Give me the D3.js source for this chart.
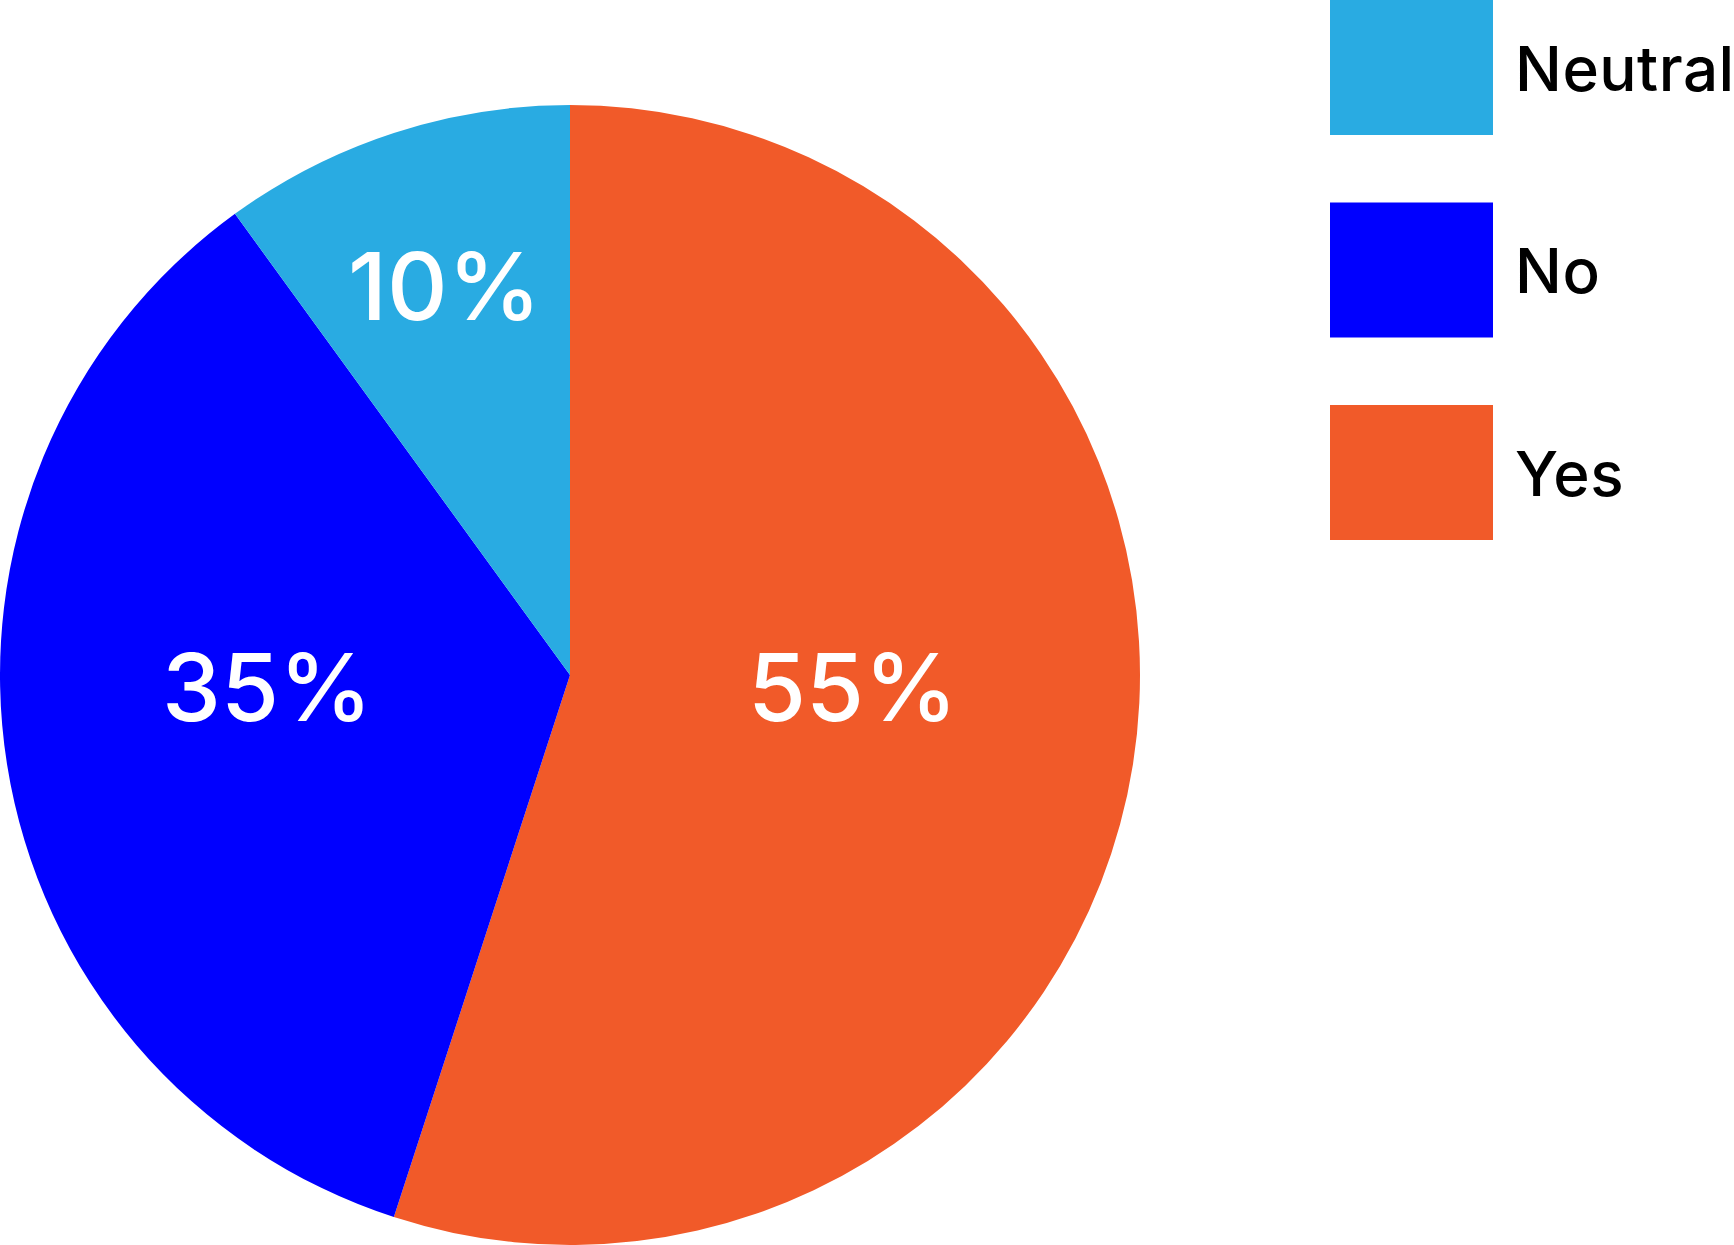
<!DOCTYPE html>
<html lang="en">
<head>
	<meta charset="utf-8">
	<title>Pie</title>
	<style>
		body { margin: 0; background: #fff; }
		svg { display: block; }
		.label { fill: #fff; font-family: Inter, "Liberation Sans", sans-serif; font-size: 94px; font-weight: 500; }
		.legend text { fill: #000; font-family: Inter, "Liberation Sans", sans-serif; font-size: 62px; font-weight: 500; letter-spacing: 0.5px; }
	</style>
</head>
<body>
	<div id="chart"></div>

	<script src="https://cdn.jsdelivr.net/npm/d3@7"></script>
	<script>
		// data
		var categories = ["Neutral", "No", "Yes"];
		var values = [10, 35, 55];
		var colors = ["#29abe2", "#0000ff", "#f15a29"];

		var width = 1734,
		    height = 1245,
		    radius = 570,
		    cx = 570,
		    cy = 675;

		var svg = d3.select("#chart")
				.append("svg")
				.attr("width", width)
				.attr("height", height);

		var color = d3.scaleOrdinal()
				.domain(categories)
				.range(colors);

		var data = categories.map(function(c, i) { return { name: c, value: values[i] }; });

		// clockwise from 12 o'clock: Yes, No, Neutral
		var pie = d3.pie()
				.sort(null)
				.value(function(d) { return d.value; });

		var arcs = pie(data.slice().reverse());

		var arc = d3.arc().innerRadius(0).outerRadius(radius);

		var g = svg.append("g")
				.attr("transform", "translate(" + cx + "," + cy + ")");

		g.selectAll(".slice")
				.data(arcs)
			.enter().append("path")
				.attr("class", "slice")
				.attr("fill", function(d) { return color(d.data.name); })
				.attr("d", arc);

		// thin slices get their label pushed further out
		g.selectAll(".label")
				.data(arcs)
			.enter().append("text")
				.attr("class", "label")
				.attr("text-anchor", "middle")
				.attr("dx", -10)
				.attr("transform", function(d) {
					var k = (d.endAngle - d.startAngle) < 1 ? 0.655 : 0.52;
					var la = d3.arc().innerRadius(radius * k).outerRadius(radius * k);
					return "translate(" + la.centroid(d) + ")";
				})
				.text(function(d) { return d.data.value + "%"; });

		// legend
		var legY = d3.scaleBand()
				.domain(categories)
				.range([0, 540])
				.paddingInner(1 / 3);

		var leg = svg.append("g")
				.attr("class", "legend")
				.attr("transform", "translate(1330,0)");

		var item = leg.selectAll("g")
				.data(categories)
			.enter().append("g")
				.attr("transform", function(d) { return "translate(0," + legY(d) + ")"; });

		item.append("rect")
				.attr("width", 163)
				.attr("height", legY.bandwidth())
				.attr("fill", function(d) { return color(d); });

		item.append("text")
				.attr("x", 185)
				.attr("y", legY.bandwidth() / 2 + 23)
				.text(function(d) { return d; });
	</script>
</body>
</html>
